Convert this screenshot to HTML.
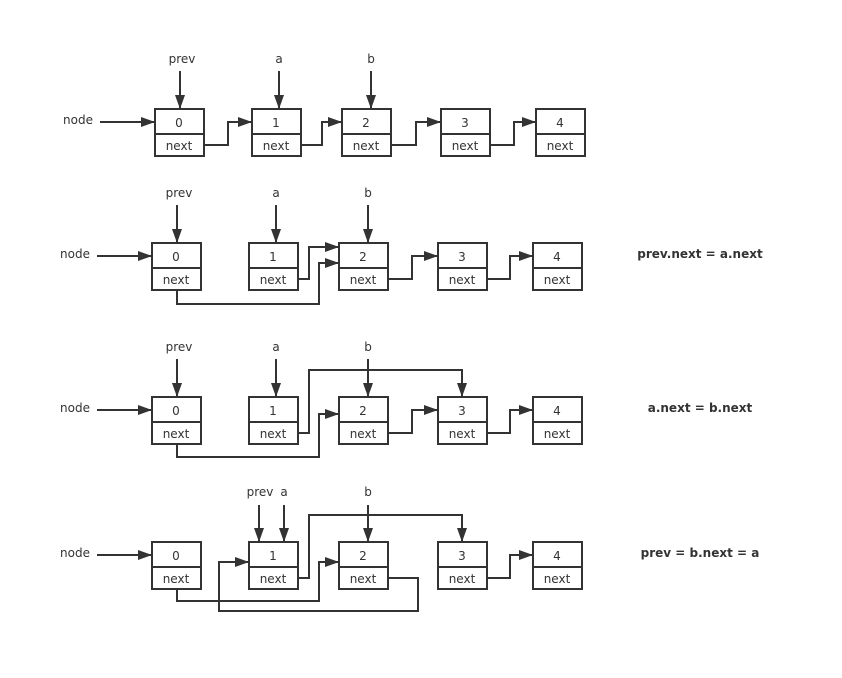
<!DOCTYPE html>
<html><head><meta charset="utf-8"><style>
html,body{margin:0;padding:0;background:#fff;}
svg text{font-family:"DejaVu Sans","Liberation Sans",sans-serif;font-size:12px;fill:#333;}
.b{font-weight:bold;font-size:12px;}
</style></head><body>
<svg width="842" height="673" viewBox="0 0 842 673" xmlns="http://www.w3.org/2000/svg">
<defs>
<marker id="ar" markerWidth="14" markerHeight="10" refX="14" refY="5" orient="auto" markerUnits="userSpaceOnUse">
<path d="M0,0 L14,5 L0,10 Z" fill="#333"/>
</marker>
</defs>
<g fill="none" stroke="#333" stroke-width="2">
<!-- Row 1 -->
<rect x="155" y="109" width="49" height="47" fill="#fff"/><line x1="155" y1="134" x2="204" y2="134"/>
<rect x="252" y="109" width="49" height="47" fill="#fff"/><line x1="252" y1="134" x2="301" y2="134"/>
<rect x="342" y="109" width="49" height="47" fill="#fff"/><line x1="342" y1="134" x2="391" y2="134"/>
<rect x="441" y="109" width="49" height="47" fill="#fff"/><line x1="441" y1="134" x2="490" y2="134"/>
<rect x="536" y="109" width="49" height="47" fill="#fff"/><line x1="536" y1="134" x2="585" y2="134"/>
<line x1="100" y1="122" x2="155" y2="122" marker-end="url(#ar)"/>
<line x1="180" y1="71" x2="180" y2="109" marker-end="url(#ar)"/>
<line x1="279" y1="71" x2="279" y2="109" marker-end="url(#ar)"/>
<line x1="371" y1="71" x2="371" y2="109" marker-end="url(#ar)"/>
<polyline points="204,145 228,145 228,122 252,122" marker-end="url(#ar)"/>
<polyline points="301,145 322,145 322,122 342,122" marker-end="url(#ar)"/>
<polyline points="391,145 416,145 416,122 441,122" marker-end="url(#ar)"/>
<polyline points="490,145 514,145 514,122 536,122" marker-end="url(#ar)"/>
<!-- Row 2 -->
<rect x="152" y="243" width="49" height="47"/><line x1="152" y1="268" x2="201" y2="268"/>
<rect x="249" y="243" width="49" height="47"/><line x1="249" y1="268" x2="298" y2="268"/>
<rect x="339" y="243" width="49" height="47"/><line x1="339" y1="268" x2="388" y2="268"/>
<rect x="438" y="243" width="49" height="47"/><line x1="438" y1="268" x2="487" y2="268"/>
<rect x="533" y="243" width="49" height="47"/><line x1="533" y1="268" x2="582" y2="268"/>
<line x1="97" y1="256" x2="152" y2="256" marker-end="url(#ar)"/>
<line x1="177" y1="205" x2="177" y2="243" marker-end="url(#ar)"/>
<line x1="276" y1="205" x2="276" y2="243" marker-end="url(#ar)"/>
<line x1="368" y1="205" x2="368" y2="243" marker-end="url(#ar)"/>
<polyline points="177,290 177,304 319,304 319,263 339,263" marker-end="url(#ar)"/>
<polyline points="298,279 309,279 309,247 339,247" marker-end="url(#ar)"/>
<polyline points="388,279 412,279 412,256 438,256" marker-end="url(#ar)"/>
<polyline points="487,279 510,279 510,256 533,256" marker-end="url(#ar)"/>
<!-- Row 3 -->
<rect x="152" y="397" width="49" height="47"/><line x1="152" y1="422" x2="201" y2="422"/>
<rect x="249" y="397" width="49" height="47"/><line x1="249" y1="422" x2="298" y2="422"/>
<rect x="339" y="397" width="49" height="47"/><line x1="339" y1="422" x2="388" y2="422"/>
<rect x="438" y="397" width="49" height="47"/><line x1="438" y1="422" x2="487" y2="422"/>
<rect x="533" y="397" width="49" height="47"/><line x1="533" y1="422" x2="582" y2="422"/>
<line x1="97" y1="410" x2="152" y2="410" marker-end="url(#ar)"/>
<line x1="177" y1="359" x2="177" y2="397" marker-end="url(#ar)"/>
<line x1="276" y1="359" x2="276" y2="397" marker-end="url(#ar)"/>
<line x1="368" y1="359" x2="368" y2="397" marker-end="url(#ar)"/>
<polyline points="177,444 177,457 319,457 319,414 339,414" marker-end="url(#ar)"/>
<polyline points="298,433 309,433 309,370 462,370 462,397" marker-end="url(#ar)"/>
<polyline points="388,433 412,433 412,410 438,410" marker-end="url(#ar)"/>
<polyline points="487,433 510,433 510,410 533,410" marker-end="url(#ar)"/>
<!-- Row 4 -->
<rect x="152" y="542" width="49" height="47"/><line x1="152" y1="567" x2="201" y2="567"/>
<rect x="249" y="542" width="49" height="47"/><line x1="249" y1="567" x2="298" y2="567"/>
<rect x="339" y="542" width="49" height="47"/><line x1="339" y1="567" x2="388" y2="567"/>
<rect x="438" y="542" width="49" height="47"/><line x1="438" y1="567" x2="487" y2="567"/>
<rect x="533" y="542" width="49" height="47"/><line x1="533" y1="567" x2="582" y2="567"/>
<line x1="97" y1="555" x2="152" y2="555" marker-end="url(#ar)"/>
<line x1="259" y1="505" x2="259" y2="542" marker-end="url(#ar)"/>
<line x1="284" y1="505" x2="284" y2="542" marker-end="url(#ar)"/>
<line x1="368" y1="505" x2="368" y2="542" marker-end="url(#ar)"/>
<polyline points="177,589 177,601 319,601 319,562 339,562" marker-end="url(#ar)"/>
<polyline points="298,578 309,578 309,515 462,515 462,542" marker-end="url(#ar)"/>
<polyline points="388,578 418,578 418,611 219,611 219,562 249,562" marker-end="url(#ar)"/>
<polyline points="487,578 510,578 510,555 533,555" marker-end="url(#ar)"/>
</g>
<g text-anchor="middle">
<!-- Row 1 text -->
<text x="182" y="63">prev</text><text x="279" y="63">a</text><text x="371" y="63">b</text>
<text x="78" y="124">node</text>
<text x="179" y="127">0</text><text x="179" y="150">next</text>
<text x="276" y="127">1</text><text x="276" y="150">next</text>
<text x="366" y="127">2</text><text x="366" y="150">next</text>
<text x="465" y="127">3</text><text x="465" y="150">next</text>
<text x="560" y="127">4</text><text x="560" y="150">next</text>
<!-- Row 2 -->
<text x="179" y="197">prev</text><text x="276" y="197">a</text><text x="368" y="197">b</text>
<text x="75" y="258">node</text>
<text x="176" y="261">0</text><text x="176" y="284">next</text>
<text x="273" y="261">1</text><text x="273" y="284">next</text>
<text x="363" y="261">2</text><text x="363" y="284">next</text>
<text x="462" y="261">3</text><text x="462" y="284">next</text>
<text x="557" y="261">4</text><text x="557" y="284">next</text>
<text x="700" y="258" class="b">prev.next = a.next</text>
<!-- Row 3 -->
<text x="179" y="351">prev</text><text x="276" y="351">a</text><text x="368" y="351">b</text>
<text x="75" y="412">node</text>
<text x="176" y="415">0</text><text x="176" y="438">next</text>
<text x="273" y="415">1</text><text x="273" y="438">next</text>
<text x="363" y="415">2</text><text x="363" y="438">next</text>
<text x="462" y="415">3</text><text x="462" y="438">next</text>
<text x="557" y="415">4</text><text x="557" y="438">next</text>
<text x="700" y="412" class="b">a.next = b.next</text>
<!-- Row 4 -->
<text x="260" y="496">prev</text><text x="284" y="496">a</text><text x="368" y="496">b</text>
<text x="75" y="557">node</text>
<text x="176" y="560">0</text><text x="176" y="583">next</text>
<text x="273" y="560">1</text><text x="273" y="583">next</text>
<text x="363" y="560">2</text><text x="363" y="583">next</text>
<text x="462" y="560">3</text><text x="462" y="583">next</text>
<text x="557" y="560">4</text><text x="557" y="583">next</text>
<text x="700" y="557" class="b">prev = b.next = a</text>
</g>
</svg>
</body></html>
